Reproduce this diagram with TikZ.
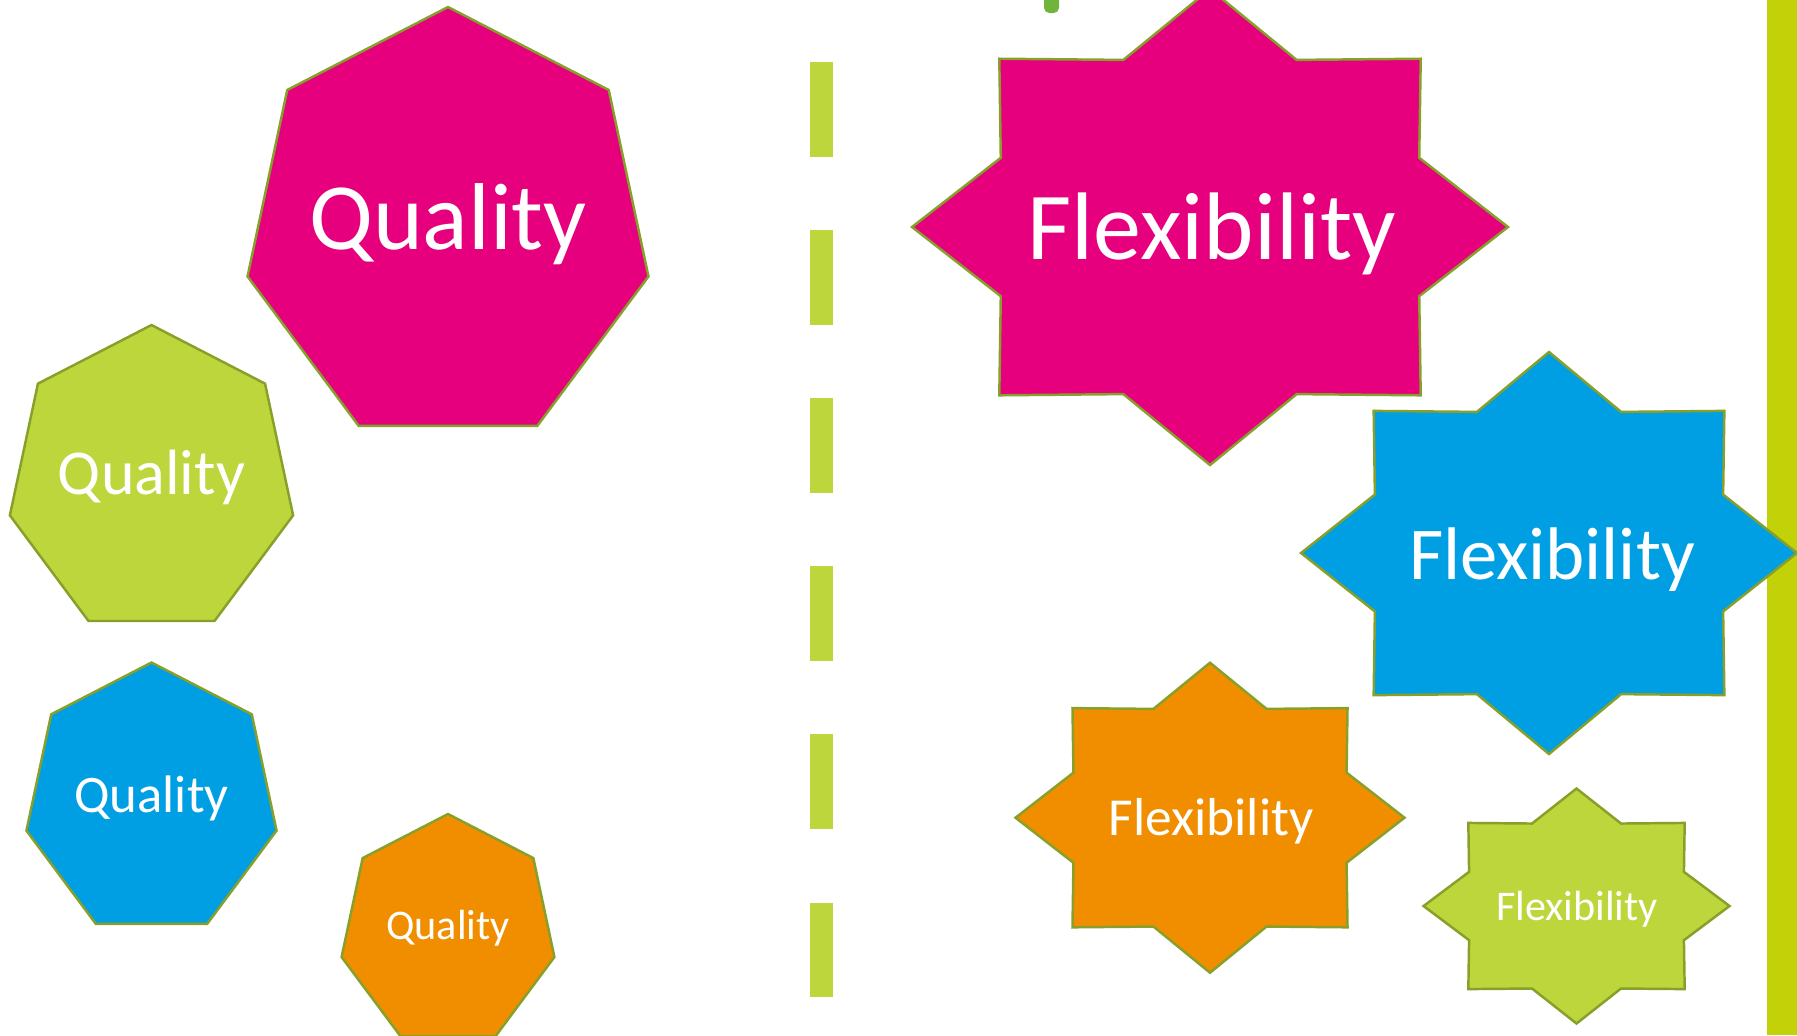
\documentclass[tikz,border=0pt]{standalone}
\usepackage{fontspec}
\setmainfont{Carlito}
\usepackage{xcolor}
\usepackage{tikz}

\definecolor{qpink}{RGB}{230,0,126}
\definecolor{qlime}{RGB}{189,214,59}
\definecolor{qblue}{RGB}{0,159,227}
\definecolor{qorange}{RGB}{241,142,0}
\definecolor{qedge}{RGB}{134,160,42}
\definecolor{stripgreen}{RGB}{195,210,8}
\definecolor{markgreen}{RGB}{112,180,60}

\begin{document}
\begin{tikzpicture}[x=0.01cm, y=0.01cm,
  shapeedge/.style={draw=qedge, line width=0.7pt},
  labeltext/.style={text=white, anchor=base, inner sep=0pt}]
\useasboundingbox (0,0) rectangle (1797,-1035);

% strip, mark and dashed divider
\fill[stripgreen] (1767,0) rectangle (1797,-1035);
\fill[markgreen, rounded corners=1.5pt] (1044,6) rectangle (1059,-13);
\node[coordinate] (top) at (821.5,-62) {};
\node[coordinate] (bot) at (821.5,-997) {};
\draw[qlime, line width=0.23cm, dash pattern=on 0.95cm off 0.73cm] (top)--(bot);

% centres of the heptagons
\node[coordinate] (H1) at (448,-227.4) {};
\node[coordinate] (H2) at (151.5,-480.7) {};
\node[coordinate] (H3) at (151.5,-800) {};
\node[coordinate] (H4) at (448,-931) {};

% centres of the stars
\node[coordinate] (S1) at (1210,-227) {};
\node[coordinate] (S2) at (1549,-553) {};
\node[coordinate] (S3) at (1210,-817.7) {};
\node[coordinate] (S4) at (1576.5,-906) {};

% draw the heptagons
\draw[shapeedge, fill=qpink, shift={(H1)}, xscale=0.933*220.4, yscale=220.4]
  (90:1) \foreach \k in {1,...,6} {-- ({90+\k*360/7}:1)} -- cycle;
\draw[shapeedge, fill=qlime, shift={(H2)}, xscale=0.933*155.7, yscale=155.7]
  (90:1) \foreach \k in {1,...,6} {-- ({90+\k*360/7}:1)} -- cycle;
\draw[shapeedge, fill=qblue, shift={(H3)}, xscale=0.933*137.5, yscale=137.5]
  (90:1) \foreach \k in {1,...,6} {-- ({90+\k*360/7}:1)} -- cycle;
\draw[shapeedge, fill=qorange, shift={(H4)}, xscale=0.933*117, yscale=117]
  (90:1) \foreach \k in {1,...,6} {-- ({90+\k*360/7}:1)} -- cycle;

% draw the stars
\draw[shapeedge, fill=qpink, shift={(S1)}, xscale=298, yscale=238]
  (90:1) \foreach \k in {1,...,15} {-- ({90+\k*22.5}:{1-0.24*mod(\k,2)})} -- cycle;
\draw[shapeedge, fill=qblue, shift={(S2)}, xscale=248, yscale=201]
  (90:1) \foreach \k in {1,...,15} {-- ({90+\k*22.5}:{1-0.24*mod(\k,2)})} -- cycle;
\draw[shapeedge, fill=qorange, shift={(S3)}, xscale=194.5, yscale=155]
  (90:1) \foreach \k in {1,...,15} {-- ({90+\k*22.5}:{1-0.24*mod(\k,2)})} -- cycle;
\draw[shapeedge, fill=qlime, shift={(S4)}, xscale=153, yscale=117.5]
  (90:1) \foreach \k in {1,...,15} {-- ({90+\k*22.5}:{1-0.24*mod(\k,2)})} -- cycle;

% labels
\node[labeltext, font=\fontsize{27}{32}\selectfont] (q1) at (448,-249) {Quality};
\node[labeltext, font=\fontsize{18.2}{22}\selectfont] (q2) at (151.5,-494) {Quality};
\node[labeltext, font=\fontsize{15}{18}\selectfont] (q3) at (151.5,-812) {Quality};
\node[labeltext, font=\fontsize{12}{14}\selectfont] (q4) at (448,-939) {Quality};

\node[labeltext, font=\fontsize{27.3}{32}\selectfont] (f1) at (1212,-259) {Flexibility};
\node[labeltext, font=\fontsize{21.2}{25}\selectfont] (f2) at (1552,-579) {Flexibility};
\node[labeltext, font=\fontsize{15.2}{18}\selectfont] (f3) at (1211,-835) {Flexibility};
\node[labeltext, font=\fontsize{12}{14}\selectfont] (f4) at (1577,-920) {Flexibility};

\end{tikzpicture}
\end{document}
